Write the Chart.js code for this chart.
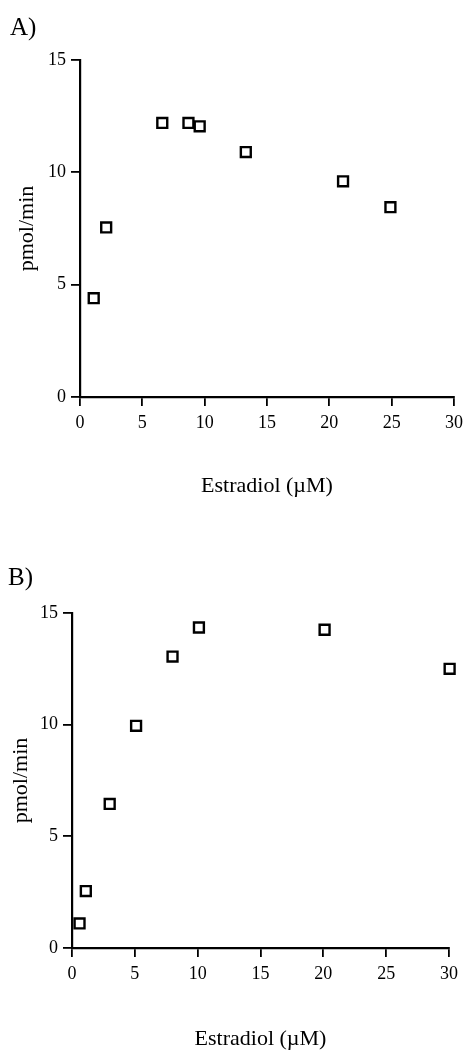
<!DOCTYPE html>
<html>
<head>
<meta charset="utf-8">
<script src="https://cdn.jsdelivr.net/npm/chart.js@4"></script>
<style>
  html, body { margin: 0; padding: 0; background: #fff; }
  body { width: 469px; height: 1050px; position: relative; overflow: hidden; }
  canvas { position: absolute; left: 0; }
  #cA { top: 0; }
  #cB { top: 520px; }
</style>
</head>
<body>
<canvas id="cA" width="469" height="520"></canvas>
<canvas id="cB" width="469" height="530"></canvas>
<script>
// ---- data ----
const panelA_x = [1.1, 2.1, 6.6, 8.7, 9.6, 13.3, 21.1, 24.9];
const panelA_y = [4.4, 7.55, 12.2, 12.2, 12.05, 10.9, 9.6, 8.45];
const panelB_x = [0.6, 1.1, 3.0, 5.1, 8.0, 10.1, 20.1, 30.05];
const panelB_y = [1.1, 2.55, 6.45, 9.95, 13.05, 14.35, 14.25, 12.5];
const xTicks = [0, 5, 10, 15, 20, 25, 30];
const yTicks = [0, 5, 10, 15];
const panelLabels = ['A)', 'B)'];
const xTitle = 'Estradiol (\u00B5M)';
const yTitle = 'pmol/min';

const FONT = "'Liberation Serif', 'Times New Roman', serif";
const INK = '#000';

function pts(xs, ys) { return xs.map((x, i) => ({x: x, y: ys[i]})); }

function makeChart(id, label, xs, ys, L) {
  return new Chart(document.getElementById(id), {
    type: 'scatter',
    data: { datasets: [{
      data: pts(xs, ys),
      pointStyle: 'rect',
      pointRadius: 7,
      pointHoverRadius: 7,
      borderWidth: 2.4,
      borderColor: INK,
      backgroundColor: '#fff',
      clip: false
    }]},
    options: {
      responsive: false,
      animation: false,
      events: [],
      layout: { padding: { left: L.padLeft, right: L.padRight, top: 0, bottom: 0 } },
      plugins: {
        legend: { display: false },
        tooltip: { enabled: false },
        title: {
          display: true, text: label, align: 'start', color: INK,
          font: { family: FONT, size: 25, weight: 'normal' },
          padding: { top: L.titleTop, bottom: L.titleBottom }
        }
      },
      scales: {
        x: {
          type: 'linear', min: 0, max: 30,
          afterBuildTicks: s => { s.ticks = xTicks.map(v => ({value: v})); },
          afterFit: s => { s.height = L.xHeight; },
          border: { display: true, color: INK, width: 2.2 },
          grid: { drawOnChartArea: false, drawTicks: true, tickLength: 9, color: INK, lineWidth: 1.8 },
          ticks: { color: INK, padding: 6, maxRotation: 0, font: { family: FONT, size: 18 } },
          title: { display: true, text: xTitle, color: INK, font: { family: FONT, size: 22 },
                   padding: { top: 0, bottom: L.xTitlePad } }
        },
        y: {
          type: 'linear', min: 0, max: 15,
          afterBuildTicks: s => { s.ticks = yTicks.map(v => ({value: v})); },
          afterFit: s => { s.width = L.yWidth; },
          border: { display: true, color: INK, width: 2.2 },
          grid: { drawOnChartArea: false, drawTicks: true, tickLength: 9, color: INK, lineWidth: 1.8 },
          ticks: { color: INK, padding: 5, font: { family: FONT, size: 18 } },
          title: { display: true, text: yTitle, color: INK, font: { family: FONT, size: 22 },
                   padding: { top: L.yTitlePad, bottom: 0 } }
        }
      }
    }
  });
}

makeChart('cA', panelLabels[0], panelA_x, panelA_y, {
  padLeft: 10, padRight: 12, titleTop: 13, titleBottom: 17,
  xHeight: 123, xTitlePad: 21, yWidth: 70, yTitlePad: 3.8
});
makeChart('cB', panelLabels[1], panelB_x, panelB_y, {
  padLeft: 8, padRight: 20, titleTop: 43, titleBottom: 20,
  xHeight: 102, xTitlePad: -2.5, yWidth: 64, yTitlePad: 0
});
</script>
</body>
</html>
